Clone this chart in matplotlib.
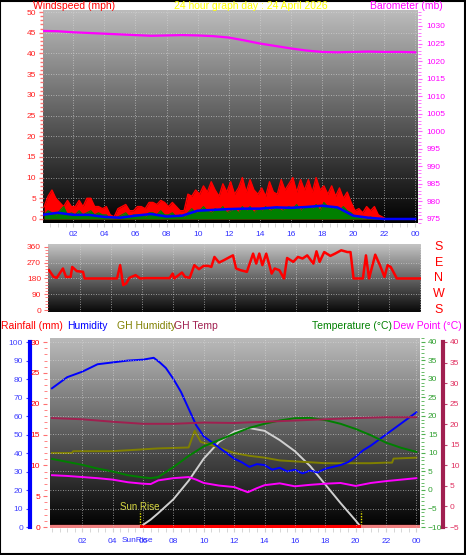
import numpy as np
import matplotlib
matplotlib.use("Agg")
import matplotlib.pyplot as plt
from matplotlib.colors import LinearSegmentedColormap
from matplotlib.ticker import MultipleLocator
from matplotlib.transforms import blended_transform_factory as btf
from matplotlib.patches import Rectangle

plt.rcParams['font.family'] = ['Liberation Sans', 'DejaVu Sans']

# ---------------- data ----------------
title_text = "24 hour graph day : 24 April 2026"
hour_ticks = [2, 4, 6, 8, 10, 12, 14, 16, 18, 20, 22, 24]
hour_labels = ['02', '04', '06', '08', '10', '12', '14', '16', '18', '20', '22', '00']

# wind gust (mph), quarter-hour values 00:00 .. 23:45
wind_gust = [3, 5.5, 7, 5,   4, 3, 4.5, 3,   3, 4.5, 3, 5,   5, 3, 3, 2.5,
             3, 1, 0.5, 2.5, 3, 3.5, 2, 2,   3, 3, 2.5, 4,   4, 3.5, 4.5, 4,
             3, 4, 3, 2,     2, 6, 5.5, 7,   6, 8, 6.5, 9,   7, 5.5, 8.5, 6.5,
             9, 6, 7.5, 10,  6.5, 9.5, 7, 6, 7.5, 5.5, 9, 6.5, 6, 9.5, 7, 8.5,
             10, 6.5, 9.5, 7, 9.5, 6.5, 10, 7, 8, 6, 8, 5.5,  7.5, 5, 6.5, 4,
             2, 2.5, 1.5, 3, 2, 3, 1, 0.5,   0, 0, 0, 0,     0, 0, 0, 0]
# wind speed (mph), quarter-hour values
wind_speed = [1, 2, 1.5, 1,   2, 3, 1, 1.5,   1, 2, 1, 1.5,   2, 1, 1.5, 1,
              1, 0, 0, 0.5,   1, 1.5, 0.5, 1, 1, 1, 0.5, 1.5, 1.5, 1, 2, 1,
              1, 1.5, 0.5, 1, 0.5, 1.5, 2.5, 1.5, 2, 3, 2, 1.5, 2.5, 2, 3, 1.5,
              2, 2.5, 1.5, 3, 2, 3, 1.5, 2.5, 2, 3, 2, 2.5,   3, 2, 2.5, 3,
              2.5, 3.5, 2, 3, 3, 2.5, 3.5, 2,  4, 3, 2.5, 3,  2, 3, 2, 1.5,
              0.5, 0.5, 0, 0, 0.5, 0, 0, 0,   0, 0, 0, 0,     0, 0, 0, 0]
# average wind speed, hourly 00..24
wind_avg = [1, 1.5, 1, 1, 0.5, 0.3, 0.8, 1.2, 0.6, 0.8, 2, 2.2, 2.4, 2.5, 2.5,
            2.8, 2.7, 2.9, 3.2, 2.8, 0.8, 0.3, 0, 0, 0]
# barometer (mb), hourly 00..24
baro = [1028.6, 1028.5, 1028.2, 1028.0, 1027.8, 1027.6, 1027.4, 1027.2, 1027.3,
        1027.4, 1027.3, 1027.1, 1026.7, 1025.9, 1025.0, 1024.3, 1023.6, 1023.0,
        1022.6, 1022.5, 1022.6, 1022.7, 1022.6, 1022.6, 1022.5]

# wind direction (degrees)
dir_hours = [0.0, 0.3, 0.5, 0.9, 1.1, 1.4, 1.5, 1.8, 2.2, 2.3, 4.4, 4.6, 4.8, 5.0,
             5.2, 5.6, 5.9, 6.3, 7.8, 8.0, 8.1, 8.6, 8.8, 9.1, 9.4, 9.7, 10.0,
             10.3, 10.5, 10.7, 11.0, 11.3, 11.7, 11.9, 12.1, 12.4, 12.8, 13.2,
             13.4, 13.6, 13.8, 14.05, 14.4, 14.6, 14.9, 15.2, 15.4, 15.8, 16.1,
             16.4, 16.7, 17.1, 17.3, 17.5, 17.8, 18.2, 18.5, 18.9, 19.3, 19.5,
             19.7, 20.3, 20.5, 20.7, 21.1, 21.4, 21.7, 21.9, 22.1, 22.5, 24.0]
dir_deg = [227, 189, 184, 237, 189, 189, 246, 222, 218, 180, 180, 256, 142, 152,
           184, 199, 180, 182, 182, 208, 180, 214, 189, 184, 256, 233, 252,
           252, 246, 303, 271, 284, 303, 312, 237, 227, 218, 322,
           265, 322, 256, 322, 208, 237, 227, 180, 297, 275, 303,
           294, 312, 265, 335, 275, 331, 309, 322, 341, 331, 331,
           180, 180, 312, 180, 316, 256, 189, 256, 246, 180, 180]
compass_deg = [360, 270, 180, 90, 0]
compass_lbl = ['S', 'E', 'N', 'W', 'S']

# humidity (%)
hum_hours = [0, 1, 2, 3, 4, 5, 6, 6.7, 7.1, 7.5, 8, 8.5, 9, 9.5, 10, 10.5, 11,
             11.5, 12, 12.5, 13, 13.5, 14, 14.5, 15, 15.5, 16, 16.5, 17, 17.5,
             18, 18.5, 19, 19.5, 20, 20.5, 21, 21.5, 22, 22.5, 23, 23.5, 24]
humidity = [75, 81, 84, 88, 89, 90, 90.5, 91.5, 89, 86, 80, 73, 64, 55, 49, 46, 43,
            40, 37, 35, 32.5, 34, 33.5, 31, 32, 30, 31, 29, 30.5, 29.5,
            31.5, 32.5, 33.5, 35, 38, 41.5, 44, 47, 50, 53, 56, 59, 62]
# greenhouse humidity (%)
ghh_hours = [0, 1.3, 1.4, 4, 7, 9, 9.4, 9.8, 10.2, 11, 12, 13, 14, 15, 16, 17, 18,
             19, 20, 21, 22, 22.4, 22.5, 24]
gh_humidity = [40, 40, 41, 41, 42.5, 43, 52, 46, 45, 43, 40, 38.5, 37.5, 36, 35.5,
               35, 34.5, 34.5, 34.5, 34.5, 34.8, 34.8, 37, 37.5]
# greenhouse temperature (C)
ght_hours = [0, 2, 4, 6, 8, 10, 12, 14, 16, 18, 20, 22, 24]
gh_temp = [21.5, 21.2, 20.6, 20.1, 20.1, 20.4, 20.3, 20.6, 20.9, 21.2, 21.5, 21.7, 21.7]
# outside temperature (C)
temp_hours = [0, 1, 2, 3, 4, 5, 6, 6.5, 7, 8, 9, 10, 11, 12, 13, 14, 15, 16, 17,
              18, 19, 20, 21, 22, 23, 24]
temperature = [8.4, 7.6, 6.8, 5.8, 5.0, 4.0, 3.4, 3.2, 3.5, 6.2, 9.2, 11.8, 13.5,
               15.2, 16.8, 17.9, 18.8, 19.4, 19.5, 18.9, 17.9, 16.5, 14.8, 12.8,
               11.4, 10.3]
# dew point (C)
dew_hours = [0, 1, 2, 3, 4, 5, 6, 6.5, 7, 8, 9, 9.5, 10, 11, 12, 12.9, 13.5, 14,
             15, 16, 17, 18, 19, 20, 21, 22, 23, 24]
dew_point = [4.0, 3.8, 3.5, 3.2, 2.8, 2.1, 1.7, 1.6, 2.6, 3.2, 3.5, 2.8, 1.9, 1.2,
             0.8, -0.6, 0.5, 1.3, 1.8, 1.0, 1.4, 1.7, 1.9, 1.1, 1.9, 2.4, 2.8, 3.2]
# rainfall (mm)
rain_hours = [0, 24]
rainfall = [0, 0]
# sun curve (plotted on humidity scale)
sun_hours = [5.8, 6.5, 7, 8, 9, 10, 11, 12, 13, 14, 15, 16, 17, 18, 19, 20, 20.35]
sun_curve = [0, 4, 7.5, 15, 25, 37, 46, 51.5, 53.5, 52, 47, 41, 33, 23, 13, 3.5, 0]
sunrise_h = 5.8
sunset_h = 20.35

# ---------------- helpers ----------------
W, H = 466, 555


def axrect(x0, y0, x1, y1):
    return [x0 / W, 1 - y1 / H, (x1 - x0) / W, (y1 - y0) / H]


def gradient(ax, top, bottom):
    cmap = LinearSegmentedColormap.from_list('g', [bottom, top])
    ax.imshow(np.linspace(0, 1, 256).reshape(-1, 1), extent=(0, 1, 0, 1),
              transform=ax.transAxes, aspect='auto', cmap=cmap, origin='lower',
              zorder=0, interpolation='bilinear')


def hide_spines(ax):
    for s in ax.spines.values():
        s.set_visible(False)


dotted = (0, (1, 2))
grid_kw = dict(color='#d8d8d8', lw=0.6, linestyle=dotted, alpha=0.8)
tick_fs = 6
head_fs = 7.5

fig = plt.figure(figsize=(W / 100, H / 100), dpi=100)
fig.patch.set_facecolor('white')

# ================= top panel =================
ax1 = fig.add_axes(axrect(43, 10, 418, 223))
gradient(ax1, '#bcbcbc', '#000000')
hide_spines(ax1)
ax1.set_xlim(0.05, 24.18)
ax1.set_ylim(-0.97, 50.5)
tq = np.arange(len(wind_gust)) * 0.25 + 0.125
ax1.fill_between(tq, 0, wind_gust, color='#ff0000', lw=0, zorder=2)
ax1.plot(tq, wind_gust, color='#ff0000', lw=1.0, zorder=2)
ax1.fill_between(tq, 0, wind_speed, color='#008000', lw=0, zorder=3)
ax1.plot(tq, wind_speed, color='#008000', lw=0.8, zorder=3)
ax1.plot(np.arange(len(wind_avg)), wind_avg, color='#0000ff', lw=1.8, zorder=4)
for v in hour_ticks:
    ax1.axvline(v, **grid_kw, zorder=1)
for v in range(5, 51, 5):
    ax1.axhline(v, **grid_kw, zorder=1)
ax1.yaxis.set_major_locator(MultipleLocator(5))
ax1.yaxis.set_minor_locator(MultipleLocator(1))
ax1.tick_params(axis='y', which='both', colors='#ff7070', labelcolor='#ff2020',
                labelsize=tick_fs, length=3, width=1, pad=2)
ax1.tick_params(axis='y', which='minor', length=2)
ax1.set_xticks(hour_ticks)
ax1.set_xticklabels(hour_labels)
ax1.xaxis.set_minor_locator(MultipleLocator(0.5))
ax1.tick_params(axis='x', which='both', colors='#d0d0d0', labelcolor='#3030ff',
                labelsize=tick_fs, length=3, pad=3)

ax1b = ax1.twinx()
hide_spines(ax1b)
ax1b.set_ylim(973.86, 1034.55)
ax1b.plot(np.arange(len(baro)), baro, color='#ff00ff', lw=1.6, zorder=5)
ax1b.yaxis.set_major_locator(MultipleLocator(5))
ax1b.yaxis.set_minor_locator(MultipleLocator(1))
ax1b.tick_params(axis='y', which='both', colors='#ff60ff', labelcolor='#ff00ff',
                 labelsize=tick_fs, length=3, pad=3)
ax1b.tick_params(axis='y', which='minor', length=2)

fig.text(33 / W, 1 - 6 / H, 'Windspeed (mph)', color='#ff0000', fontsize=head_fs,
         va='center', ha='left')
fig.text(251 / W, 1 - 6 / H, title_text, color='#ffff00', fontsize=head_fs,
         va='center', ha='center')
fig.text(443 / W, 1 - 6 / H, 'Barometer (mb)', color='#ff00ff', fontsize=head_fs,
         va='center', ha='right')

# ================= middle panel (direction) =================
ax2 = fig.add_axes(axrect(48, 244, 421, 312))
gradient(ax2, '#c4c4c4', '#080808')
hide_spines(ax2)
ax2.set_xlim(-0.065, 24.06)
ax2.set_ylim(-11.4, 377)
ax2.plot(dir_hours, dir_deg, color='#ff0000', lw=1.8, zorder=3)
for v in hour_ticks:
    ax2.axvline(v, **grid_kw, zorder=1)
for v in [90, 180, 270]:
    ax2.axhline(v, **grid_kw, zorder=1)
ax2.yaxis.set_major_locator(MultipleLocator(90))
ax2.yaxis.set_minor_locator(MultipleLocator(18))
ax2.tick_params(axis='y', which='both', colors='#ff7070', labelcolor='#ff2020',
                labelsize=tick_fs, length=3, pad=2)
ax2.tick_params(axis='y', which='minor', length=2)
ax2.set_xticks([])
tr2 = btf(ax2.transAxes, ax2.transData)
for d, l in zip(compass_deg, compass_lbl):
    ax2.text(1.048, d, l, transform=tr2, color='#ff0000', fontsize=9,
             ha='center', va='center', clip_on=False)

# ================= bottom panel =================
axH = fig.add_axes(axrect(50, 338, 420, 528))
gradient(axH, '#bababa', '#000000')
hide_spines(axH)
axH.set_xlim(-0.13, 24.24)
axH.set_ylim(-0.54, 102.2)

axR = axH.twinx()
axT = axH.twinx()
axC = axH.twinx()
for a in (axR, axT, axC):
    hide_spines(a)
axR.set_ylim(-0.16, 30.65)
axT.set_ylim(-10.27, 41.08)
axC.set_ylim(-5.24, 40.97)

for v in hour_ticks:
    axT.axvline(v, **grid_kw, zorder=1)
for v in range(-5, 41, 5):
    axT.axhline(v, **grid_kw, zorder=1)

axH.plot(sun_hours, sun_curve, color='#d0d0d0', lw=1.4, zorder=3)
axC.plot(ght_hours, gh_temp, color='#a02050', lw=1.4, zorder=3)
axH.plot(ghh_hours, gh_humidity, color='#808000', lw=1.4, zorder=3)
axT.plot(temp_hours, temperature, color='#008000', lw=1.4, zorder=3)
axT.plot(dew_hours, dew_point, color='#ff00ff', lw=1.4, zorder=3)
axH.plot(hum_hours, humidity, color='#0000ff', lw=1.4, zorder=4)
axR.plot(rain_hours, rainfall, color='#ff0000', lw=3, zorder=5, solid_capstyle='butt')
axR.hlines(rainfall[0], -0.13, sunrise_h, color='#f08080', lw=3, zorder=6)
axR.hlines(rainfall[0], sunset_h, 24.24, color='#f08080', lw=3, zorder=6)

axH.vlines([sunrise_h, sunset_h], -0.5, 8.5, colors='#e0e000', lw=1,
           linestyles=(0, (1, 1)), zorder=6)
axH.text(sunrise_h, 10.8, 'Sun Rise', color='#d8d840', fontsize=7,
         ha='center', va='center', zorder=7)

axH.spines['left'].set_visible(True)
axH.spines['left'].set_position(('axes', -0.054))
axH.spines['left'].set_color('#0000ff')
axH.spines['left'].set_linewidth(3)
axH.spines['left'].set_bounds(0, 100)
axH.yaxis.set_major_locator(MultipleLocator(10))
axH.tick_params(axis='y', which='both', colors='#4040ff', labelcolor='#4040ff',
                labelsize=tick_fs, length=3, pad=2)
axH.set_xticks(hour_ticks)
axH.set_xticklabels(hour_labels)
axH.xaxis.set_minor_locator(MultipleLocator(0.5))
axH.tick_params(axis='x', which='both', colors='#d0d0d0', labelcolor='#3030ff',
                labelsize=tick_fs, length=3, pad=4)
trH = btf(axH.transData, axH.transAxes)
axH.text(sunrise_h - 0.2, -0.068, 'SunRise', transform=trH, color='#3030ff',
         fontsize=tick_fs, ha='center', va='center', clip_on=False)

axR.yaxis.tick_left()
axR.spines['left'].set_position(('axes', -0.008))
axR.yaxis.set_major_locator(MultipleLocator(5))
axR.yaxis.set_minor_locator(MultipleLocator(1))
axR.tick_params(axis='y', which='both', colors='#ff7070', labelcolor='#ff0000',
                labelsize=tick_fs, length=3, pad=2)
axR.tick_params(axis='y', which='minor', length=2)

axT.spines['right'].set_position(('axes', 1.003))
axT.yaxis.set_major_locator(MultipleLocator(5))
axT.yaxis.set_minor_locator(MultipleLocator(1))
axT.tick_params(axis='y', which='both', colors='#50b050', labelcolor='#30a030',
                labelsize=tick_fs, length=3, pad=2)
axT.tick_params(axis='y', which='minor', length=2)

axC.spines['right'].set_visible(True)
axC.spines['right'].set_position(('axes', 1.062))
axC.spines['right'].set_color('#a02050')
axC.spines['right'].set_linewidth(3)
axC.spines['right'].set_bounds(-5, 40)
axC.yaxis.set_major_locator(MultipleLocator(5))
axC.tick_params(axis='y', which='both', colors='#c04070', labelcolor='#e03060',
                labelsize=tick_fs, length=3, pad=2)

hy = 1 - 326 / H
fig.text(1 / W, hy, 'Rainfall (mm)', color='#ff0000', fontsize=head_fs, va='center')
fig.text(67 / W, hy, 'Humidity', color='#0000ff', fontsize=head_fs, va='center')
fig.text(117 / W, hy, 'GH Humidity', color='#808000', fontsize=head_fs, va='center')
fig.text(174 / W, hy, 'GH Temp', color='#a02050', fontsize=head_fs, va='center')
fig.text(392 / W, hy, 'Temperature (°C)', color='#008000', fontsize=head_fs,
         va='center', ha='right')
fig.text(393 / W, hy, 'Dew Point (°C)', color='#ff00ff', fontsize=head_fs, va='center')

fig.patches.append(Rectangle((0.001, 0.002), 0.997, 0.996, transform=fig.transFigure,
                             fill=False, edgecolor='black', lw=1.5))

fig.savefig('out.png', dpi=100)
